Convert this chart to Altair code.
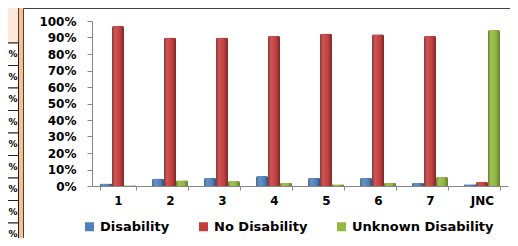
import altair as alt
import pandas as pd

categories = ["1", "2", "3", "4", "5", "6", "7", "JNC"]
series = ["Disability", "No Disability", "Unknown Disability"]
disability = [1.5, 4.5, 5.0, 6.0, 5.0, 5.0, 2.0, 1.0]
no_disability = [97.0, 90.0, 90.0, 91.0, 92.5, 92.0, 91.0, 2.5]
unknown = [0.5, 3.5, 3.0, 2.0, 1.0, 2.0, 5.5, 94.5]
y_ticks = [0, 0.1, 0.2, 0.3, 0.4, 0.5, 0.6, 0.7, 0.8, 0.9, 1.0]
table_labels = ["%"] * 9
colors = ["#4F81BD", "#C43C3C", "#93B83F"]

rows = []
for i, c in enumerate(categories):
    for s, vals in zip(series, [disability, no_disability, unknown]):
        rows.append({"cat": c, "series": s, "value": vals[i] / 100.0})
df = pd.DataFrame(rows)

df_table = pd.DataFrame({"i": list(range(len(table_labels))), "label": table_labels})
df_one = pd.DataFrame({"k": [0]})

# decorations: chart frame and cut-off table on the left
frame = alt.Chart(df_one).mark_rect(fill="white", stroke="#404040", strokeWidth=1).encode(
    x=alt.value(-68.5), x2=alt.value(440), y=alt.value(-12.5), y2=alt.value(260)
)
header = alt.Chart(df_one).mark_rect(fill="#FDE9D9", stroke="#404040", strokeWidth=1).encode(
    x=alt.value(-100), x2=alt.value(-73.5), y=alt.value(-30), y2=alt.value(22)
)
table_cells = alt.Chart(df_table).transform_calculate(
    top="22 + 22.5 * datum.i", bot="22 + 22.5 * (datum.i + 1)"
).mark_rect(fill="white", stroke="#202020", strokeWidth=1).encode(
    x=alt.value(-100), x2=alt.value(-73.5),
    y=alt.Y("top:Q", scale=None, axis=None), y2="bot:Q"
)
table_text = alt.Chart(df_table).transform_calculate(
    mid="22 + 22.5 * (datum.i + 0.5)"
).mark_text(align="right", baseline="middle", font="DejaVu Sans", fontWeight="bold",
            fontSize=9, color="black").encode(
    x=alt.value(-74.5), y=alt.Y("mid:Q", scale=None, axis=None), text="label:N"
)

x_enc = alt.X(
    "cat:N", sort=categories,
    scale=alt.Scale(paddingInner=0.31, paddingOuter=0.155),
    axis=alt.Axis(title=None, labelAngle=0, tickBand="extent", tickSize=4,
                  labelPadding=5, domainColor="#868686", tickColor="#868686",
                  labelFont="DejaVu Sans", labelFontWeight="bold", labelFontSize=12,
                  labelColor="black", grid=False, zindex=1),
)
y_enc = alt.Y(
    "value:Q", scale=alt.Scale(domain=[0, 1], nice=False),
    axis=alt.Axis(title=None, values=y_ticks, format=".0%", tickSize=5, labelPadding=11,
                  domainColor="#868686", tickColor="#868686", labelFont="DejaVu Sans",
                  labelFontWeight="bold", labelFontSize=12, labelColor="black", grid=False,
                  zindex=1),
)
xoff = alt.XOffset("series:N", sort=series, scale=alt.Scale(domain=series, paddingInner=0, paddingOuter=0))

bars = alt.Chart(df).mark_bar(cornerRadiusTopLeft=2, cornerRadiusTopRight=2).encode(
    x=x_enc, y=y_enc, xOffset=xoff,
    color=alt.Color(
        "series:N", sort=series, scale=alt.Scale(domain=series, range=colors),
        legend=alt.Legend(title=None, orient="none", direction="horizontal",
                          legendX=-9, legendY=199, symbolType="square", symbolSize=81,
                          symbolStrokeWidth=0, labelFont="DejaVu Sans", labelFontWeight="bold",
                          labelFontSize=13, labelColor="black", columnPadding=27,
                          labelOffset=4, zindex=1),
    ),
)

shade = alt.LinearGradient(
    gradient="linear", x1=0, x2=1, y1=0, y2=0,
    stops=[
        alt.GradientStop(offset=0, color="rgba(0,0,0,0.35)"),
        alt.GradientStop(offset=0.3, color="rgba(255,255,255,0.12)"),
        alt.GradientStop(offset=0.5, color="rgba(255,255,255,0.05)"),
        alt.GradientStop(offset=0.8, color="rgba(0,0,0,0.12)"),
        alt.GradientStop(offset=1, color="rgba(0,0,0,0.4)"),
    ],
)
overlay = alt.Chart(df).mark_bar(color=shade, cornerRadiusTopLeft=2, cornerRadiusTopRight=2).encode(
    x=x_enc, y=y_enc, xOffset=xoff
)

chart = alt.layer(frame, header, table_cells, table_text, bars, overlay).properties(
    width=416, height=165,
    autosize=alt.AutoSizeParams(type="none"),
    padding={"left": 84, "top": 13, "right": 2, "bottom": 52},
    background="#FABF8F",
).configure_view(stroke=None)

chart.save("out.html", embed_options={"renderer": "svg", "actions": False})
